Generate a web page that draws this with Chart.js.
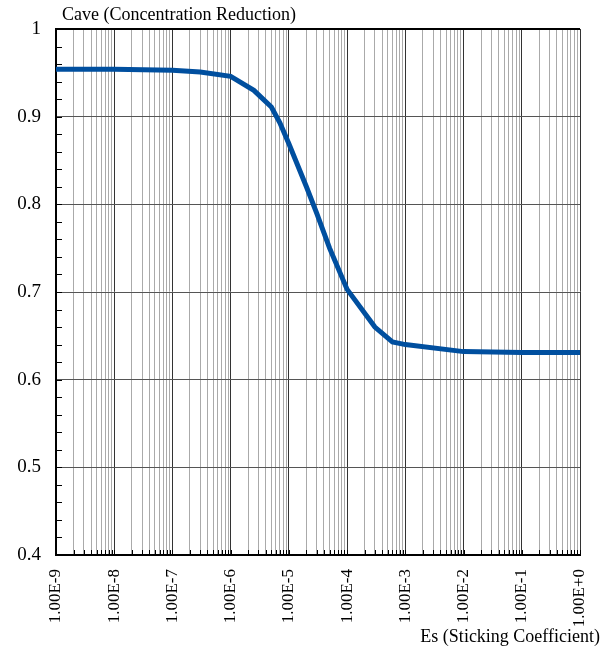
<!DOCTYPE html>
<html>
<head>
<meta charset="utf-8">
<script src="https://cdn.jsdelivr.net/npm/chart.js@4.4.1/dist/chart.umd.min.js"></script>
<style>
html, body { margin: 0; padding: 0; background: #fff; }
#wrap { width: 605px; height: 660px; }
</style>
</head>
<body>
<div id="wrap"><canvas id="c"></canvas></div>
<script>
// values
const sticking = [1e-9, 1e-8, 1e-7, 3e-7, 1e-6, 2.5e-6, 5e-6, 7e-6, 1e-5, 2e-5, 3e-5, 5e-5, 1e-4, 3e-4, 6e-4, 1e-3, 1e-2, 1e-1, 1];
const cave = [0.954, 0.954, 0.953, 0.951, 0.946, 0.930, 0.911, 0.893, 0.869, 0.820, 0.790, 0.750, 0.703, 0.660, 0.643, 0.640, 0.632, 0.631, 0.631];
const decadeLabels = ['1.00E-9', '1.00E-8', '1.00E-7', '1.00E-6', '1.00E-5', '1.00E-4', '1.00E-3', '1.00E-2', '1.00E-1', '1.00E+0'];
const yMin = 0.4, yMax = 1, yStep = 0.02;

const serif = 'Liberation Serif';

function isDecade(v) {
    let l = Math.log10(v);
    return Math.abs(l - Math.round(l)) < 1e-6;
}
function isTenth(v) {
    return Math.abs(v * 10 - Math.round(v * 10)) < 1e-6;
}

const extras = {
    id: 'extras',
    beforeDatasetsDraw(chart) {
        let ctx = chart.ctx;
        let a = chart.chartArea;
        let xs = chart.scales.x, ys = chart.scales.y;
        ctx.save();
        ctx.strokeStyle = '#000';
        ctx.lineWidth = 1;
        ctx.beginPath();
        ys.ticks.forEach(t => {
            let py = Math.round(ys.getPixelForValue(t.value)) + 0.5;
            ctx.moveTo(a.left, py);
            ctx.lineTo(a.left + 6, py);
        });
        xs.ticks.forEach(t => {
            let px = Math.round(xs.getPixelForValue(t.value)) + 0.5;
            ctx.moveTo(px, a.bottom);
            ctx.lineTo(px, a.bottom - 5);
        });
        ctx.stroke();
        // top frame
        ctx.lineWidth = 2;
        ctx.beginPath();
        ctx.moveTo(a.left, a.top);
        ctx.lineTo(a.right, a.top);
        ctx.stroke();
        ctx.restore();
    },
    afterDraw(chart) {
        let ctx = chart.ctx;
        ctx.save();
        ctx.fillStyle = '#000';
        ctx.font = `18px "${serif}"`;
        ctx.textBaseline = 'middle';
        ctx.textAlign = 'left';
        ctx.fillText('Cave (Concentration Reduction)', 62, 15);
        ctx.textAlign = 'right';
        ctx.fillText('Es (Sticking Coefficient)', 600, 637);
        ctx.restore();
    }
};

new Chart(document.getElementById('c'), {
    type: 'line',
    data: {
        datasets: [{
            data: sticking.map((s, i) => ({ x: s, y: cave[i] })),
            borderColor: '#004f9f',
            borderWidth: 5,
            pointRadius: 0,
            tension: 0,
            fill: false
        }]
    },
    options: {
        responsive: true,
        maintainAspectRatio: false,
        animation: false,
        layout: { padding: { top: 29, right: 25, bottom: 0, left: 0 } },
        plugins: {
            legend: { display: false },
            title: { display: false },
            tooltip: { enabled: false }
        },
        scales: {
            x: {
                type: 'logarithmic',
                min: 1e-9,
                max: 1,
                afterBuildTicks: scale => {
                    let t = [];
                    for (let d = -9; d <= 0; d++) {
                        for (let m = 1; m <= 9; m++) {
                            let v = m * Math.pow(10, d);
                            if (v > 1.0000001) break;
                            t.push({ value: v });
                        }
                    }
                    scale.ticks = t;
                },
                afterFit: scale => {
                    scale.height = 105;
                    scale.paddingLeft = 0;
                    scale.paddingRight = 0;
                },
                grid: {
                    drawTicks: false,
                    color: c => isDecade(c.tick.value) ? '#333' : '#aaa',
                    lineWidth: 1
                },
                border: { display: true, color: '#000', width: 2 },
                ticks: {
                    autoSkip: false,
                    maxRotation: 90,
                    minRotation: 90,
                    padding: 14,
                    color: '#000',
                    font: { family: serif, size: 17 },
                    callback: v => isDecade(v) ? decadeLabels[Math.round(Math.log10(v)) + 9] : ''
                }
            },
            y: {
                min: yMin,
                max: yMax,
                afterFit: scale => { scale.width = 56; },
                grid: {
                    drawTicks: false,
                    color: c => isTenth(c.tick.value) ? '#555' : 'rgba(0,0,0,0)',
                    lineWidth: 1
                },
                border: { display: true, color: '#000', width: 2 },
                ticks: {
                    stepSize: yStep,
                    autoSkip: false,
                    padding: 15,
                    color: '#000',
                    font: { family: serif, size: 19 },
                    callback: v => isTenth(v) ? (Math.abs(v - 1) < 1e-6 ? '1' : v.toFixed(1)) : ''
                }
            }
        }
    },
    plugins: [extras]
});
</script>
</body>
</html>
